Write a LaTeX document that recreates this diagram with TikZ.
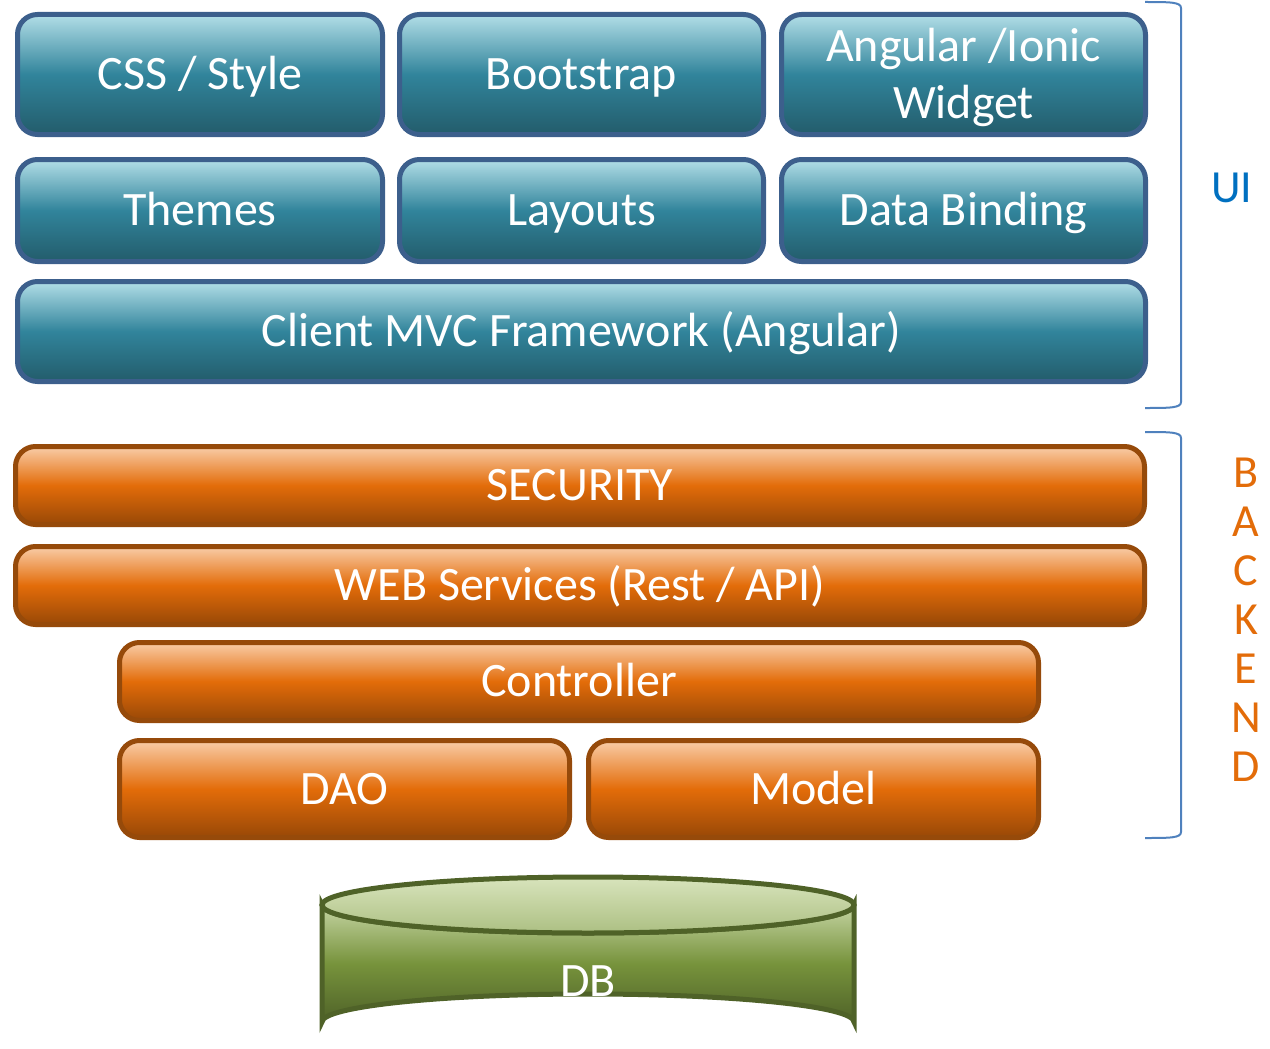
\documentclass[tikz,border=0pt]{standalone}
\usepackage{fontspec}
\setmainfont{Carlito}
\definecolor{bluetop}{HTML}{B2DEE7}
\definecolor{bluemid}{HTML}{31849B}
\definecolor{bluebot}{HTML}{235C6B}
\definecolor{blueedge}{HTML}{3C5F8C}
\definecolor{orgtop}{HTML}{F9CDA8}
\definecolor{orgmid}{HTML}{E36C09}
\definecolor{orgbot}{HTML}{984807}
\definecolor{orgedge}{HTML}{964A0A}
\definecolor{grntop}{HTML}{D8E4BC}
\definecolor{grnmid}{HTML}{77933C}
\definecolor{grnbot}{HTML}{4F6228}
\definecolor{grnedge}{HTML}{4F6228}
\definecolor{brace}{HTML}{4F81BD}
\definecolor{uitext}{HTML}{0070C0}
\definecolor{betext}{HTML}{E36C09}
\tikzset{
  x=1pt, y=-1pt,
  layer/.style={rectangle, rounded corners=20pt, line width=5pt,
    text=white, font=\fontsize{48}{57}\selectfont, align=center,
    inner sep=0pt, text height=30.9pt, text depth=0pt},
  bluebox/.style={layer, draw=blueedge, top color=bluetop, bottom color=bluebot, middle color=bluemid},
  orangebox/.style={layer, draw=orgedge, top color=orgtop, bottom color=orgbot, middle color=orgmid},
  bracket/.style={draw=brace, line width=2pt},
  sidelabel/.style={font=\fontsize{46}{49}\selectfont, align=center, inner sep=0pt},
}
\newcommand{\boxat}[8][]{% options, style, name, x1, y1, x2, y2, text
  \node[#2, minimum width={#6-#4-5}, minimum height={#7-#5-5}, #1] (#3) at ({(#4+#6)/2},{(#5+#7)/2}) {#8};}
\begin{document}
\begin{tikzpicture}
\useasboundingbox (0,0) rectangle (1270,1049);
% UI layers
\boxat{bluebox}{css}{15}{12}{385}{137}{CSS / Style}
\boxat{bluebox}{boot}{397}{12}{766}{137}{Bootstrap}
\boxat[text height=87.9pt]{bluebox}{ang}{779}{12}{1148}{137}{Angular /Ionic\\Widget}
\boxat{bluebox}{themes}{15}{157}{385}{264}{Themes}
\boxat{bluebox}{layouts}{397}{157}{766}{264}{Layouts}
\boxat{bluebox}{bind}{779}{157}{1148}{264}{Data Binding}
\boxat{bluebox}{mvc}{15}{279}{1148}{384}{Client MVC Framework (Angular)}
% Backend layers
\boxat{orangebox}{sec}{13}{444}{1147}{527}{SECURITY}
\boxat{orangebox}{web}{13}{544}{1147}{627}{WEB Services (Rest / API)}
\boxat{orangebox}{ctrl}{117}{640}{1041}{723}{Controller}
\boxat{orangebox}{dao}{117}{738}{572}{840}{DAO}
\boxat{orangebox}{model}{586}{738}{1041}{840}{Model}
% DB cylinder
\path[top color=grntop!80!grnmid, bottom color=grnbot, middle color=grnmid, draw=grnedge, line width=5pt]
  (322,905) -- (322,1022) arc[start angle=180, end angle=360, x radius=266, y radius=28]
  -- (854,905) arc[start angle=0, end angle=180, x radius=266, y radius=28] -- cycle;
\path[top color=grntop, bottom color=grntop!55!grnmid, draw=grnedge, line width=5pt]
  (588,905) ellipse[x radius=266, y radius=28];
\node[text=white, font=\fontsize{48}{57}\selectfont, inner sep=0pt, text height=30.9pt, text depth=0pt] (db) at (588,981) {DB};
% Brackets
\draw[bracket] (1145,2) .. controls (1170,2) and (1181,2) .. (1181,8) -- (1181,402) .. controls (1181,408) and (1170,408) .. (1145,408);
\draw[bracket] (1145,432) .. controls (1170,432) and (1181,432) .. (1181,438) -- (1181,832) .. controls (1181,838) and (1170,838) .. (1145,838);
\node[sidelabel, text=uitext, text height=29.6pt, text depth=0pt] (ui) at (1232,188) {UI};
\node[sidelabel, text=betext] (backend) at (1246,620) {B\\A\\C\\K\\E\\N\\D};
\end{tikzpicture}
\end{document}
